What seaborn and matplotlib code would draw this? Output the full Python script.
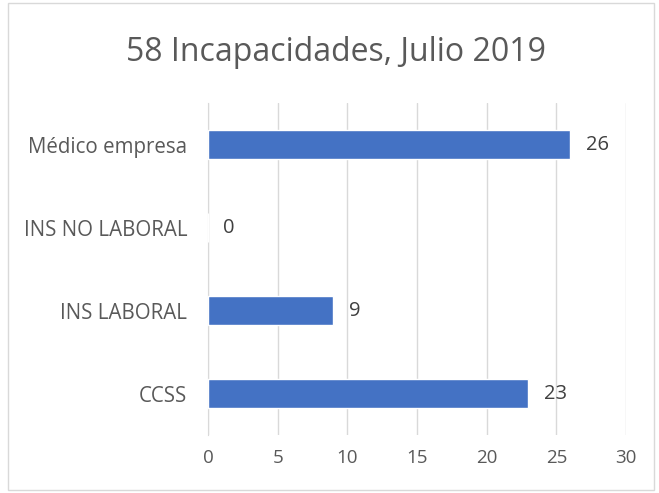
import matplotlib.pyplot as plt
import seaborn as sns
from matplotlib.patches import Rectangle

categories = ["Médico empresa", "INS NO LABORAL", "INS LABORAL", "CCSS"]
values = [26, 0, 9, 23]
title = "58 Incapacidades, Julio 2019"

sns.set_style("white")
plt.rcParams["font.family"] = ["Open Sans", "DejaVu Sans"]

fig = plt.figure(figsize=(6.59, 4.93), dpi=100)
ax = fig.add_axes([0.3156, 0.1176, 0.6343, 0.6734])

sns.barplot(x=values, y=categories, orient="h", color="#4472C4",
            width=0.35, saturation=1, ax=ax, zorder=3)

for i, v in enumerate(values):
    ax.text(v + 1.1, i, str(v), va="center", ha="left", fontsize=14.5, color="#404040")

ax.set_xlim(0, 30)
ax.set_ylim(3.5, -0.5)
ax.set_xticks(range(0, 31, 5))
ax.grid(axis="x", color="#d9d9d9", linewidth=1, zorder=0)
for s in ["top", "right", "bottom"]:
    ax.spines[s].set_visible(False)
ax.spines["left"].set_color("#d9d9d9")
ax.tick_params(axis="y", length=0, labelsize=14.8, labelcolor="#595959", pad=15)
ax.tick_params(axis="x", length=0, labelsize=13.5, labelcolor="#595959", pad=10)
ax.set_xlabel("")
ax.set_ylabel("")

fig.text(0.51, 0.893, title, ha="center", va="center", fontsize=23, color="#595959")
fig.patches.append(Rectangle((0.012, 0.006), 0.98, 0.988, transform=fig.transFigure,
                             fill=False, edgecolor="#d9d9d9", linewidth=1))

fig.savefig("out.png", dpi=100)
plt.close()
